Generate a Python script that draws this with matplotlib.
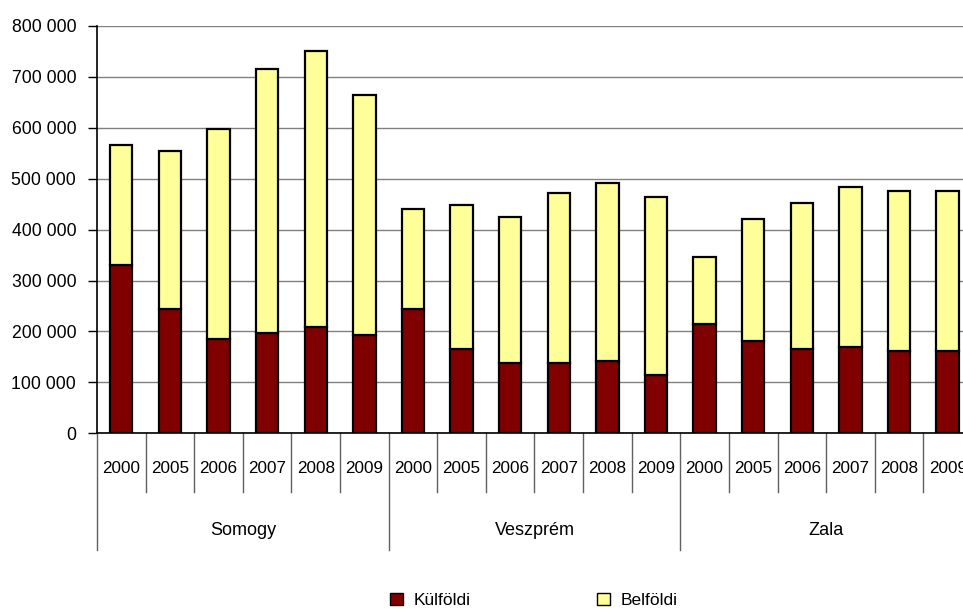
import matplotlib.pyplot as plt
from matplotlib.patches import Patch
import numpy as np

plt.rcParams['font.family'] = ['Liberation Sans', 'DejaVu Sans']

regions = ['Somogy', 'Veszprém', 'Zala']
years = ['2000', '2005', '2006', '2007', '2008', '2009']

# foreign guest nights (Külföldi) per region and year
kulfoldi = [330000, 244000, 185000, 196000, 208000, 193000,
            244000, 165000, 138000, 138000, 142000, 115000,
            214000, 181000, 166000, 169000, 162000, 162000]
# domestic guest nights (Belföldi)
belfoldi = [236000, 311000, 413000, 520000, 543000, 472000,
            197000, 283000, 287000, 334000, 350000, 349000,
            132000, 240000, 286000, 315000, 314000, 314000]

fig = plt.figure(figsize=(9.63, 6.10), dpi=100)
ax = fig.add_axes([0.1007, 0.2897, 0.9086, 0.6677])

x = np.arange(len(kulfoldi))
ax.bar(x, kulfoldi, width=0.46, color='#800000', edgecolor='black', linewidth=1.6, zorder=3)
ax.bar(x, belfoldi, width=0.46, bottom=kulfoldi, color='#FFFF99', edgecolor='black', linewidth=1.6, zorder=3)

ax.set_xlim(-0.5, len(x) - 0.5)
ax.set_ylim(0, 800000)
ax.set_yticks(np.arange(0, 800001, 100000))
ax.set_yticklabels([f'{v:,}'.replace(',', ' ') for v in range(0, 800001, 100000)], fontsize=12.7)
ax.yaxis.grid(True, color='#808080', linewidth=1, zorder=0)
ax.set_axisbelow(True)
ax.tick_params(axis='y', length=6.5, width=1, pad=8.5)
ax.tick_params(axis='x', length=0, labelbottom=False)
for s in ['top', 'right']:
    ax.spines[s].set_visible(False)
ax.spines['left'].set_linewidth(1.2)
ax.spines['bottom'].set_linewidth(1.2)

# two-level category axis
tr = ax.get_xaxis_transform()
n = len(years)
for i in range(len(x)):
    ax.text(i, -0.087, years[i % n], transform=tr, ha='center', va='center', fontsize=12.3)
for b in np.arange(-0.5, len(x), 1.0):
    low = -0.287 if (b + 0.5) % n == 0 else -0.144
    ax.plot([b, b], [0, low], transform=tr, color='#606060', linewidth=1, clip_on=False)
for g, name in enumerate(regions):
    ax.text(g * n + (n - 1) / 2, -0.238, name, transform=tr, ha='center', va='center', fontsize=13)

handles = [Patch(facecolor='#800000', edgecolor='black', linewidth=1),
           Patch(facecolor='#FFFF99', edgecolor='black', linewidth=1)]
fig.legend(handles, ['Külföldi', 'Belföldi'], loc='center', bbox_to_anchor=(0.554, 0.016),
           ncol=2, frameon=False, fontsize=12.5, handlelength=0.75, handleheight=0.75,
           handletextpad=0.6, columnspacing=7.3)

fig.savefig('out.png', dpi=100)
